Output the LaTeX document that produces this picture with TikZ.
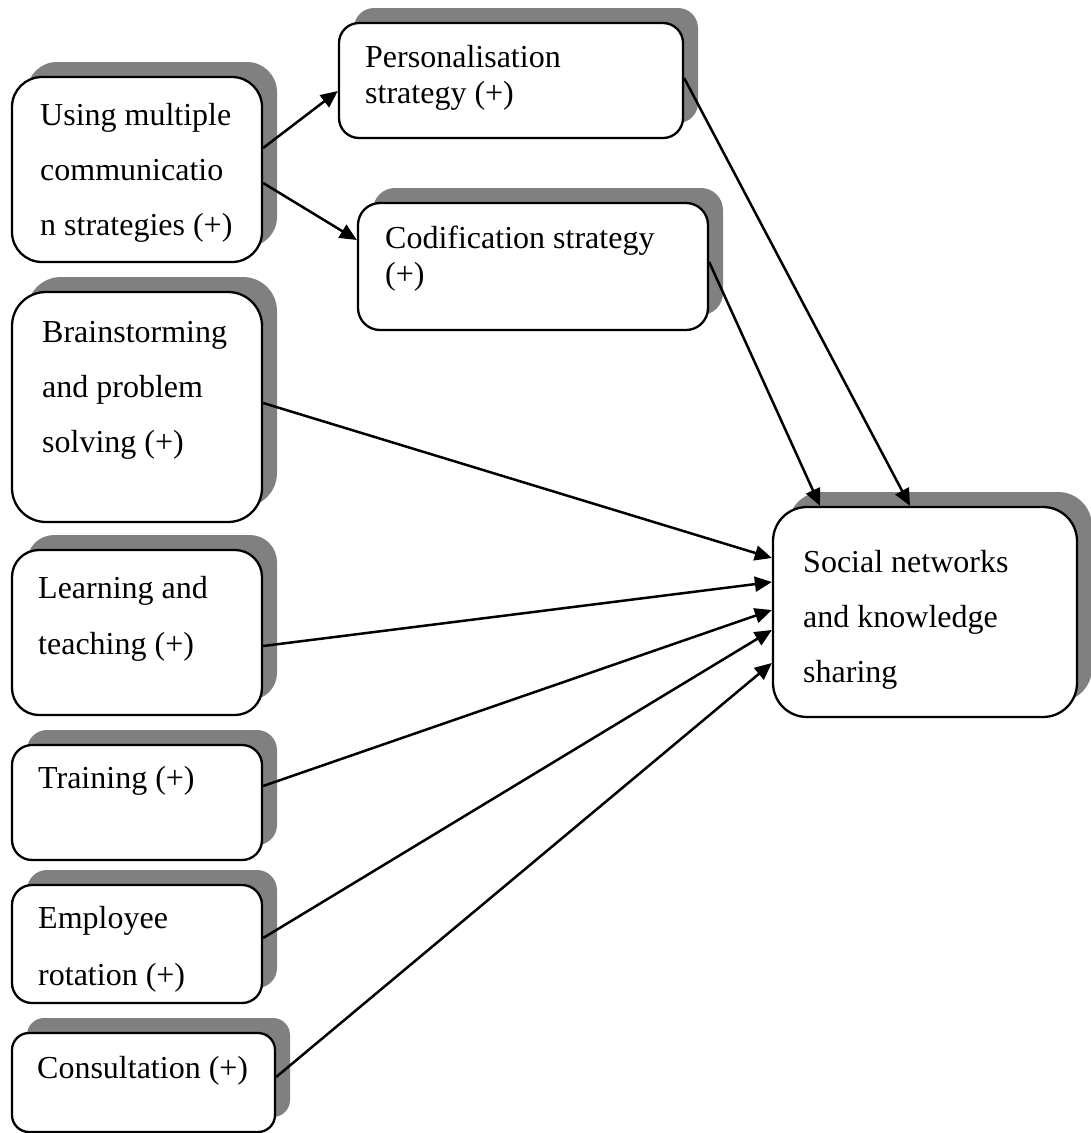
\documentclass[tikz,border=0pt]{standalone}
\usepackage{fontspec}
\setmainfont{Liberation Serif}
\usetikzlibrary{arrows.meta,shadows}
\begin{document}
\begin{tikzpicture}[x=1pt,y=-1pt,
  box/.style={draw, line width=2.3pt, fill=white, inner sep=0pt,
    drop shadow={shadow xshift=15pt, shadow yshift=15pt, fill=gray, opacity=1}},
  txt/.style={anchor=north west, inner sep=0pt, align=left},
  wide/.style={font=\fontsize{32}{55}\selectfont},
  tight/.style={font=\fontsize{32}{36}\selectfont},
  arr/.style={line width=2.5pt, -{Triangle[length=17pt,width=15pt]}}]
\useasboundingbox (0,0) rectangle (1091,1133);

% boxes (centre, size, corner radius)
\node[box, rounded corners=30pt, minimum width=250pt, minimum height=185pt] (use)   at (137,169.5) {};
\node[box, rounded corners=20pt, minimum width=344pt, minimum height=115pt] (pers)  at (511,80.5)  {};
\node[box, rounded corners=22pt, minimum width=350pt, minimum height=127pt] (cod)   at (533,266.5) {};
\node[box, rounded corners=34pt, minimum width=304pt, minimum height=210pt] (soc)   at (925,612)   {};
\node[box, rounded corners=34pt, minimum width=250pt, minimum height=230pt] (brain) at (137,407)   {};
\node[box, rounded corners=27pt, minimum width=250pt, minimum height=165pt] (learn) at (137,632.5) {};
\node[box, rounded corners=20pt, minimum width=250pt, minimum height=115pt] (train) at (137,802.5) {};
\node[box, rounded corners=20pt, minimum width=250pt, minimum height=118pt] (emp)   at (137,944)   {};
\node[box, rounded corners=17pt, minimum width=263pt, minimum height=99pt]  (cons)  at (143.5,1082.5) {};

% labels
\node[txt, wide]  (useT)   at (40,86.5)   {\strut Using multiple\\communicatio\\n strategies (+)};
\node[txt, tight] (persT)  at (365,41.8)  {\strut Personalisation\\strategy (+)};
\node[txt, tight] (codT)   at (385,222.8) {\strut Codification strategy\\(+)};
\node[txt, wide]  (socT)   at (803,533.5) {\strut Social networks\\and knowledge\\sharing};
\node[txt, wide]  (brainT) at (42,303.5)  {\strut Brainstorming\\and problem\\solving (+)};
\node[txt, font=\fontsize{32}{56}\selectfont] (learnT) at (38,558.8) {\strut Learning and\\teaching (+)};
\node[txt, wide]  (trainT) at (38,749.5)  {\strut Training (+)};
\node[txt, font=\fontsize{32}{57}\selectfont] (empT) at (38,888.1) {\strut Employee\\rotation (+)};
\node[txt, wide]  (consT)  at (37,1039.5) {\strut Consultation (+)};

% connectors
\draw[arr] ([yshift=21.5pt]use.east) -- ([yshift=-10.5pt]pers.west);
\draw[arr] ([yshift=-13.5pt]use.east) -- ([yshift=26.5pt]cod.west);
\draw[arr] ([yshift=2.5pt]pers.east) -- ([xshift=-15pt]soc.north);
\draw[arr] ([yshift=4.5pt]cod.east) -- ([xshift=-105pt]soc.north);
\draw[arr] ([yshift=4pt]brain.east) -- ([yshift=54pt]soc.west);
\draw[arr] ([yshift=-13.5pt]learn.east) -- ([yshift=30pt]soc.west);
\draw[arr] ([yshift=16.5pt]train.east) -- ([yshift=2pt]soc.west);
\draw[arr] ([yshift=6pt]emp.east) -- ([yshift=-18pt]soc.west);
\draw[arr] ([yshift=5.5pt]cons.east) -- ([yshift=-51pt]soc.west);
\end{tikzpicture}
\end{document}
